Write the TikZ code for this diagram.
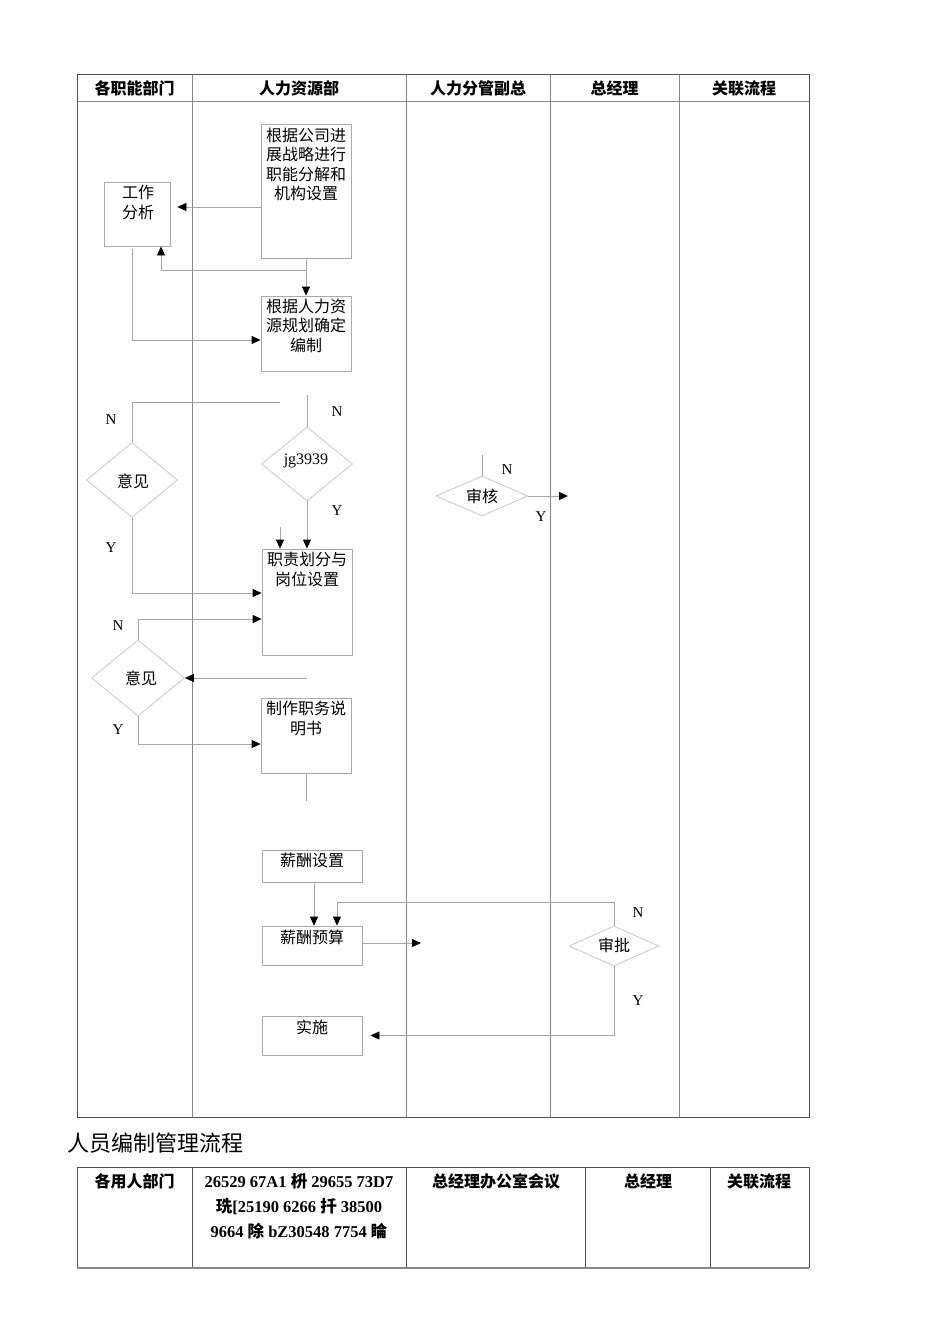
\documentclass[tikz,border=0pt]{standalone}
\usepackage{fontspec}
\setmainfont{Liberation Serif}
\newfontfamily\cjk{Noto Sans CJK SC}
\usetikzlibrary{arrows.meta,shapes.geometric}
\definecolor{linegray}{RGB}{165,165,165}
\definecolor{boxgray}{RGB}{170,170,170}
\definecolor{diagray}{RGB}{200,200,200}
\definecolor{colgray}{RGB}{135,135,135}
\definecolor{bordergray}{RGB}{80,80,80}
\tikzset{
  stepbox/.style={draw=boxgray, line width=0.8pt, rectangle, inner sep=0pt},
  dia/.style={draw=diagray, line width=0.8pt, diamond, inner sep=0pt},
  boxtext/.style={anchor=north, align=center, inner sep=0pt, font=\cjk\fontsize{16}{19.5}\selectfont},
  hdr/.style={font=\cjk\bfseries\fontsize{16}{19}\selectfont, inner sep=0pt},
  yn/.style={font=\fontsize{15}{17}\selectfont, inner sep=0pt},
  conn/.style={draw=linegray, line width=0.8pt},
  arr/.style={conn, -{Triangle[length=9pt,width=8pt,color=black]}},
}
\begin{document}
\begin{tikzpicture}[x=1pt,y=-1pt]
\useasboundingbox (0,0) rectangle (950,1344);
\fill[white] (0,0) rectangle (950,1344);
% ---- main table frame ----
\draw[colgray, line width=0.8pt] (77,101) -- (809,101);
\foreach \cx in {192,406,550,679} \draw[colgray, line width=0.8pt] (\cx,74) -- (\cx,1117);
\draw[bordergray, line width=1pt] (77,74) rectangle (809,1117);
\node[hdr] (h1) at (134.5,88) {各职能部门};
\node[hdr] (h2) at (299,88) {人力资源部};
\node[hdr] (h3) at (478,88) {人力分管副总};
\node[hdr] (h4) at (614.5,88) {总经理};
\node[hdr] (h5) at (744,88) {关联流程};
% ---- boxes ----
\node[stepbox, minimum width=90pt, minimum height=134pt] (b1) at (306,191) {};
\node[boxtext] (b1t) at (306,127.5) {根据公司进\\展战略进行\\职能分解和\\机构设置};
\node[stepbox, minimum width=66pt, minimum height=64pt] (wa) at (137,214) {};
\node[boxtext] (wat) at (138,185) {工作\\分析};
\node[stepbox, minimum width=90pt, minimum height=75pt] (b2) at (306,333.5) {};
\node[boxtext] (b2t) at (306,298.5) {根据人力资\\源规划确定\\编制};
\node[dia, minimum width=91pt, minimum height=74pt] (d1) at (307,464) {};
\node[font=\fontsize{16}{18}\selectfont, inner sep=0pt] (d1t) at (306,461) {jg3939};
\node[dia, minimum width=91pt, minimum height=75pt] (yj1) at (132,480) {};
\node[font=\cjk\fontsize{16}{18}\selectfont, inner sep=0pt] (yj1t) at (133,481) {意见};
\node[stepbox, minimum width=90pt, minimum height=106pt] (b3) at (307,602) {};
\node[boxtext] (b3t) at (307,552) {职责划分与\\岗位设置};
\node[dia, minimum width=93pt, minimum height=76pt] (yj2) at (138,678) {};
\node[font=\cjk\fontsize{16}{18}\selectfont, inner sep=0pt] (yj2t) at (141,678) {意见};
\node[stepbox, minimum width=90pt, minimum height=75pt] (b4) at (306,735.5) {};
\node[boxtext] (b4t) at (306,701) {制作职务说\\明书};
\node[stepbox, minimum width=100pt, minimum height=32pt] (b5) at (312,866) {};
\node[boxtext] (b5t) at (312,852.5) {薪酬设置};
\node[stepbox, minimum width=100pt, minimum height=39pt] (b6) at (312,945.5) {};
\node[boxtext] (b6t) at (312,929.5) {薪酬预算};
\node[stepbox, minimum width=100pt, minimum height=39pt] (b7) at (312,1035.5) {};
\node[boxtext] (b7t) at (312,1019.5) {实施};
\node[dia, minimum width=92pt, minimum height=40pt] (sh) at (482,496) {};
\node[font=\cjk\fontsize{16}{18}\selectfont, inner sep=0pt] (sht) at (482,496) {审核};
\node[dia, minimum width=90pt, minimum height=40pt] (sp) at (614,946) {};
\node[font=\cjk\fontsize{16}{18}\selectfont, inner sep=0pt] (spt) at (614,945) {审批};
% ---- connectors ----
\draw[arr] ([yshift=-16pt]b1.west) -- ([xshift=7pt,yshift=7pt]wa.east);
\draw[arr] (b1.south) -- (b2.north);
\draw[arr] (b1.south) ++(0,12) -| ([xshift=24pt]wa.south);
\draw[arr] ([xshift=-4.5pt,yshift=-3pt]wa.south) |- ([yshift=-6.5pt]b2.west);
\coordinate (n1s) at (280,402);
\draw[conn] (n1s) -| (yj1.north);
\coordinate (d1in) at (307,395);
\draw[conn] (d1in) -- (d1.north);
\draw[arr] (d1.south) -- (b3.north);
\coordinate (s3) at (280,527);
\draw[arr] (s3) -- (s3 |- b3.north);
\draw[arr] (yj1.south) |- ([yshift=9pt]b3.west);
\draw[arr] (yj2.north) |- ([yshift=-17pt]b3.west);
\coordinate (r2) at (307,678);
\draw[arr] (r2) -- (yj2.east);
\draw[arr] (yj2.south) |- ([yshift=-8.5pt]b4.west);
\coordinate (b4end) at (306,801);
\draw[conn] (b4.south) -- (b4end);
\draw[arr] ([xshift=2pt]b5.south) -- ([xshift=2pt]b6.north);
\coordinate (b6out) at (421,943);
\draw[arr] ([yshift=2.5pt]b6.east) -- (b6out);
\draw[arr] (sp.north) -- ++(0,-23) -| ([xshift=25pt]b6.north);
\draw[arr] (sp.south) |- ([xshift=8pt]b7.east);
\coordinate (shin) at (482,455);
\draw[conn] (shin) -- (sh.north);
\coordinate (shout) at (568,496);
\draw[arr] (sh.east) -- (shout);
% ---- Y/N labels ----
\node[yn] (l1) at (111,420) {N};
\node[yn] (l2) at (111,548) {Y};
\node[yn] (l3) at (337,412) {N};
\node[yn] (l4) at (337,511) {Y};
\node[yn] (l5) at (507,470) {N};
\node[yn] (l6) at (541,517) {Y};
\node[yn] (l7) at (118,626) {N};
\node[yn] (l8) at (118,730) {Y};
\node[yn] (l9) at (638,913) {N};
\node[yn] (l10) at (638,1001) {Y};
% ---- title ----
\node[anchor=west, inner sep=0pt, font=\cjk\fontsize{22}{24}\selectfont] (title) at (67,1143) {人员编制管理流程};
% ---- second table ----
\foreach \cx in {192,406,585,710} \draw[bordergray, line width=0.8pt] (\cx,1167) -- (\cx,1268);
\draw[bordergray, line width=1pt] (77,1268) -- (77,1167) -- (809,1167) -- (809,1268);
\draw[colgray, line width=1.2pt] (77,1268) -- (809,1268);
\node[hdr] (t1) at (134.5,1181) {各用人部门};
\node[font=\bfseries\fontsize{16.5}{25}\selectfont, align=center, anchor=north, inner sep=0pt] (t2) at (299,1173) {26529 67A1 {\cjk 枡} 29655 73D7\\{\cjk 珗}[25190 6266 {\cjk 扦} 38500\\9664 {\cjk 除} bZ30548 7754 {\cjk 睔}};
\node[hdr] (t3) at (496,1181) {总经理办公室会议};
\node[hdr] (t4) at (648,1181) {总经理};
\node[hdr] (t5) at (759,1181) {关联流程};
\end{tikzpicture}
\end{document}
